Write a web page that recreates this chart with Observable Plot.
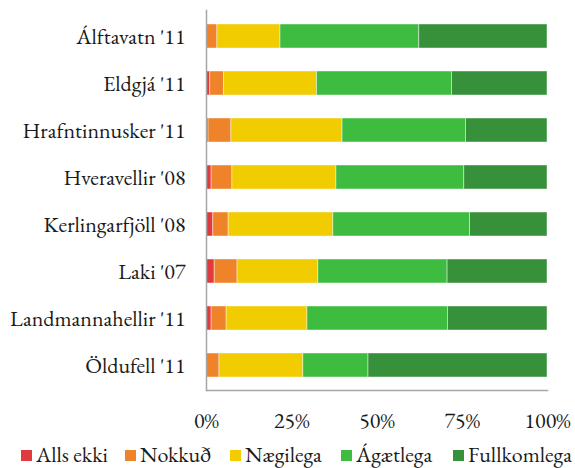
<!DOCTYPE html>
<html>
<head>
<meta charset="utf-8">
<script src="https://cdn.jsdelivr.net/npm/d3@7"></script>
<script src="https://cdn.jsdelivr.net/npm/@observablehq/plot@0.6"></script>
<style>
  html, body { margin: 0; padding: 0; background: #fff; }
  #wrap { position: relative; width: 575px; height: 468px; }
  #legend { position: absolute; left: 21px; top: 442px; }
</style>
</head>
<body>
<div id="wrap"><div id="chart"></div><div id="legend"></div></div>
<script>
const categories = ["Álftavatn '11", "Eldgjá '11", "Hrafntinnusker '11", "Hveravellir '08", "Kerlingarfjöll '08", "Laki '07", "Landmannahellir '11", "Öldufell '11"];
const series = ["Alls ekki", "Nokkuð", "Nægilega", "Ágætlega", "Fullkomlega"];
const allsEkki    = [0,    1.1,  0.6,  1.5,  2.0,  2.4,  1.5,  0];
const nokkud      = [3.2,  4.0,  6.7,  6.1,  4.5,  6.7,  4.4,  3.8];
const naegilega   = [18.5, 27.3, 32.6, 30.5, 30.7, 23.7, 23.7, 24.6];
const agaetlega   = [40.7, 39.6, 36.2, 37.5, 40.1, 37.9, 41.2, 19.1];
const fullkomlega = [37.6, 28.0, 23.9, 24.4, 22.7, 29.3, 29.2, 52.5];
const xTicks = [0, 25, 50, 75, 100];
const colors = ["#e0393e", "#ee8329", "#f0cc00", "#3ebc3f", "#37913a"];

const seriesValues = [allsEkki, nokkud, naegilega, agaetlega, fullkomlega];
const data = [];
series.forEach((s, si) => {
  categories.forEach((c, ci) => {
    data.push({category: c, series: s, value: seriesValues[si][ci]});
  });
});

const FONT = "'EB Garamond', 'Liberation Serif', serif";
const FS = 22;
const LFS = 22;

const chart = Plot.plot({
  width: 575,
  height: 440,
  marginLeft: 206,
  marginRight: 28,
  marginTop: 10,
  marginBottom: 50,
  x: {domain: [0, 100], ticks: xTicks, label: null},
  y: {domain: categories, paddingInner: 0.495, paddingOuter: 0.25, label: null},
  color: {domain: series, range: colors},
  marks: [
    Plot.barX(data, {
      x: "value", y: "category", fill: "series", z: "series",
      stroke: "#ffffff", strokeWidth: 0.8, strokeOpacity: 0.55
    }),
    Plot.axisX({ticks: xTicks, tickFormat: d => d + "%", tickSize: 0, tickPadding: 22, label: null, fontSize: FS, fontFamily: FONT, fill: "#1a1a1a"}),
    Plot.axisY({tickSize: 0, tickPadding: 21, label: null, fontSize: FS, fontFamily: FONT, fill: "#1a1a1a"}),
    Plot.frame({anchor: "left", stroke: "#a6a6a6", strokeWidth: 1.5}),
    Plot.frame({anchor: "bottom", stroke: "#a6a6a6", strokeWidth: 1.5})
  ]
});
chart.setAttribute("font-family", FONT);
chart.querySelectorAll("text").forEach(t => {
  t.style.fontFamily = FONT;
  t.style.fontSize = FS + "px";
});
document.getElementById("chart").appendChild(chart);

const legend = Plot.legend({
  color: {domain: series, range: colors},
  legend: "swatches",
  swatchSize: 11,
  className: "lg"
});
legend.style.fontFamily = FONT;
legend.style.fontSize = LFS + "px";
legend.style.lineHeight = "1.2";
legend.style.minHeight = "0px";
legend.style.margin = "0px";
legend.style.color = "#1a1a1a";
legend.style.flexWrap = "nowrap";
legend.style.whiteSpace = "nowrap";
legend.querySelectorAll("*").forEach(el => {
  el.style.fontFamily = FONT;
  el.style.fontSize = LFS + "px";
  el.style.lineHeight = "1.2";
  el.style.overflow = "visible";
  el.style.textOverflow = "clip";
  el.style.maxWidth = "none";
});
legend.querySelectorAll(".lg-swatch > svg").forEach(el => { el.style.marginRight = "4px"; el.style.flexShrink = "0"; });
document.getElementById("legend").appendChild(legend);

// space legend items so each swatch starts where the reference puts it
const squareStarts = [21, 125, 230, 341, 453];
const items = Array.from(legend.querySelectorAll(".lg-swatch"));
items.forEach((el) => { el.style.marginRight = "0px"; el.style.flexShrink = "0"; });
items.forEach((el, i) => {
  if (i < items.length - 1) {
    const r = el.getBoundingClientRect();
    el.style.marginRight = Math.max(4, squareStarts[i + 1] - r.right) + "px";
  }
});
</script>
</body>
</html>
